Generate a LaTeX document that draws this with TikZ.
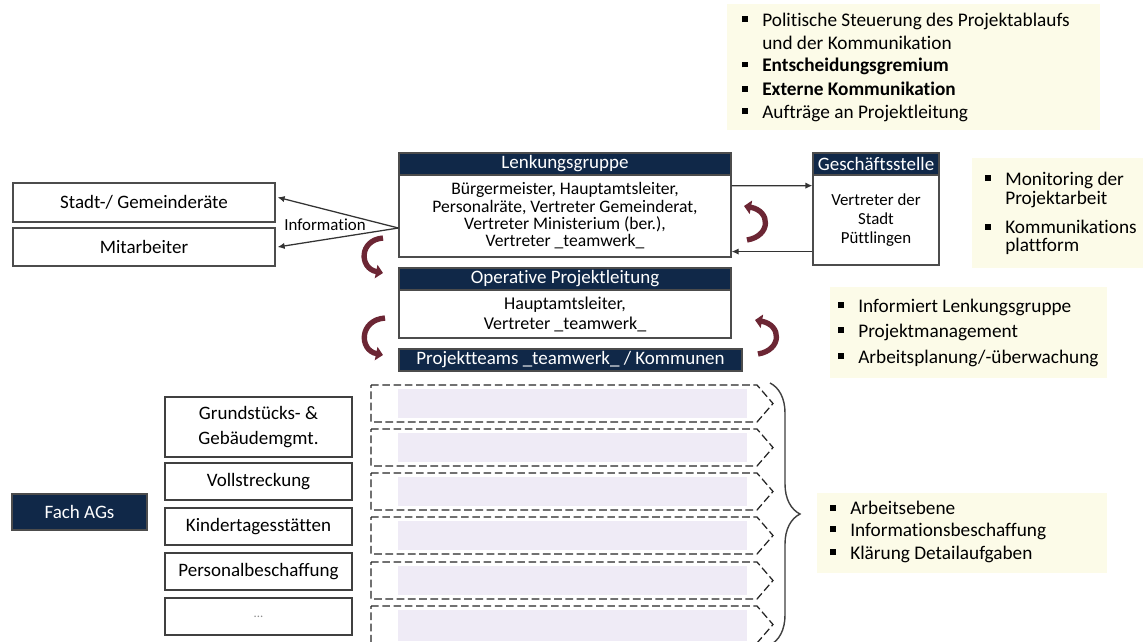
\documentclass[tikz,border=0pt]{standalone}
\usepackage{fontspec}
\setmainfont{Carlito}[Ligatures=NoCommon]
\usetikzlibrary{arrows.meta,decorations.pathreplacing}

\definecolor{navy}{RGB}{16,40,72}
\definecolor{wine}{RGB}{108,38,52}
\definecolor{note}{RGB}{252,251,232}
\definecolor{lav}{RGB}{239,235,246}

\newcommand{\blt}{\makebox[0.5cm][l]{\rule[0.2em]{0.3em}{0.3em}}}

\begin{document}
\begin{tikzpicture}[x=0.025cm, y=-0.025cm,
    box/.style={draw=black!70, line width=0.8pt, fill=white, inner sep=0pt, align=center, font=\fontsize{12.5}{12.3}\selectfont},
    head/.style={draw=black!70, line width=0.8pt, fill=navy, text=white, inner sep=0pt, font=\fontsize{13.5}{14}\selectfont},
    ag/.style={draw=black!75, line width=1pt, fill=white, inner sep=0pt, minimum width=4.675cm, align=center, font=\fontsize{13.5}{17.5}\selectfont},
    listline/.style={anchor=west, inner sep=0pt, font=\fontsize{13.7}{14}\selectfont},
    info/.style={draw=black!80, line width=0.9pt, -{Latex[length=5pt,width=4.5pt]}},
    curl/.style={draw=wine, line width=3.8pt, -{Triangle[width=9.5pt,length=5pt]}},
    agbar/.style={draw=black!85, line width=0.9pt, dash pattern=on 5.5pt off 2.5pt},
    curly/.style={decorate, decoration={brace, amplitude=0.75cm}, draw=black!75, line width=1pt},
    ]
      \path[use as bounding box, fill=white] (0,0) rectangle (1143,641);

      \fill[note] (727,4) rectangle (1100,130);
      \fill[note] (972,158) rectangle (1143,268);
      \fill[note] (830,287) rectangle (1107,378);
      \fill[note] (817,493) rectangle (1107,573);

      \node[listline] (pol1) at (742,21) {\blt Politische Steuerung des Projektablaufs};
      \node[listline] (pol2) at (762,43) {und der Kommunikation};
      \node[listline] (pol3) at (742,66) {\blt\textbf{Entscheidungsgremium}};
      \node[listline] (pol4) at (742,89) {\blt\textbf{Externe Kommunikation}};
      \node[listline] (pol5) at (742,113) {\blt Aufträge an Projektleitung};

      \node[listline] (mon1) at (985,180) {\blt Monitoring der};
      \node[listline] (mon2) at (1005,199) {Projektarbeit};
      \node[listline] (mon3) at (985,227) {\blt Kommunikations};
      \node[listline] (mon4) at (1005,246) {plattform};

      \node[listline] (opl1) at (838,307) {\blt Informiert Lenkungsgruppe};
      \node[listline] (opl2) at (838,332) {\blt Projektmanagement};
      \node[listline] (opl3) at (838,358) {\blt Arbeitsplanung/-überwachung};

      \node[listline] (arb1) at (830,508) {\blt Arbeitsebene};
      \node[listline] (arb2) at (830,531) {\blt Informationsbeschaffung};
      \node[listline] (arb3) at (830,554) {\blt Klärung Detailaufgaben};

      \node[box, minimum width=8.3cm, minimum height=2.05cm] (lg) at (565,216) {Bürgermeister, Hauptamtsleiter,\\Personalräte, Vertreter Gemeinderat,\\Vertreter Ministerium (ber.),\\Vertreter \_teamwerk\_};
      \node[head, minimum width=8.3cm, minimum height=0.55cm] (lghead) at (565,164) {Lenkungsgruppe};

      \node[box, minimum width=8.3cm, minimum height=1.2cm, font=\fontsize{12.8}{14.2}\selectfont] (op) at (565,314) {Hauptamtsleiter,\\Vertreter \_teamwerk\_};
      \node[head, minimum width=8.3cm, minimum height=0.55cm] (ophead) at (565,279) {Operative Projektleitung};

      \node[head, minimum width=8.575cm, minimum height=0.55cm] (teams) at (570.5,360) {Projektteams \_teamwerk\_ / Kommunen};

      \node[box, minimum width=3.15cm, minimum height=2.25cm, font=\fontsize{12}{13.5}\selectfont] (gs) at (876,220) {Vertreter der\\Stadt\\Püttlingen};
      \node[head, minimum width=3.15cm, minimum height=0.55cm] (gshead) at (876,164) {Geschäftsstelle};

      \node[box, minimum width=6.55cm, minimum height=0.975cm, font=\fontsize{13.5}{14}\selectfont] (rat) at (144,202.5) {Stadt-/ Gemeinderäte};
      \node[box, minimum width=6.55cm, minimum height=0.95cm, font=\fontsize{13.5}{14}\selectfont] (mit) at (144,247) {Mitarbeiter};

      \coordinate (src) at ([yshift=-0.3cm]lg.west);
      \draw[info] (src) -- ([xshift=0.05cm,yshift=0.13cm]rat.east);
      \draw[info] (src) -- ([xshift=0.05cm]mit.east);
      \node[font=\fontsize{12}{12}\selectfont, inner sep=0pt] (infolbl) at (325,225) {Information};

      \draw[info] ([yshift=-0.28cm]lg.north east) -- ([yshift=-0.28cm]gs.north west);
      \coordinate (back) at ([yshift=0.35cm]gs.south west);
      \draw[info] (back) -- (back -| lg.east);

      \node[head, minimum width=3.375cm, minimum height=0.9cm] (fach) at (79.5,512) {Fach AGs};

      \node[ag, minimum height=1.5cm] (grund) at (258.5,427) {Grundstücks- \&\\Gebäudemgmt.};
      \node[ag, minimum height=0.925cm] (voll) at (258.5,481.5) {Vollstreckung};
      \node[ag, minimum height=0.925cm] (kita) at (258.5,526.5) {Kindertagesstätten};
      \node[ag, minimum height=0.925cm] (pers) at (258.5,571.5) {Personalbeschaffung};
      \node[ag, minimum height=0.925cm] (more) at (258.5,616.5) {\fontsize{9}{9}\selectfont\color{black!45}...};

      \fill[lav] (398,389) rectangle (747,418);
      \fill[lav] (398,433) rectangle (747,462);
      \fill[lav] (398,477) rectangle (747,506);
      \fill[lav] (398,521) rectangle (747,550);
      \fill[lav] (398,566) rectangle (747,595);
      \fill[lav] (398,610) rectangle (747,641);

      \draw[agbar] (371,385) -- (757,385) -- (773,403.5) -- (757,422) -- (371,422) -- cycle;
      \draw[agbar] (371,429) -- (757,429) -- (773,447.5) -- (757,466) -- (371,466) -- cycle;
      \draw[agbar] (371,473) -- (757,473) -- (773,491.5) -- (757,510) -- (371,510) -- cycle;
      \draw[agbar] (371,517) -- (757,517) -- (773,535.5) -- (757,554) -- (371,554) -- cycle;
      \draw[agbar] (371,562) -- (757,562) -- (773,580.5) -- (757,599) -- (371,599) -- cycle;
      \draw[agbar] (371,606) -- (757,606) -- (773,624.5) -- (757,643) -- (371,643) -- cycle;

      \draw[curly] (770,383) -- (770,645);

      \draw[curl] (383,238) .. controls (359,240) and (359,268) .. (383,273);
      \draw[curl] (385,318) .. controls (359,320) and (359,350) .. (383,355);
      \draw[curl] (747,240) .. controls (771,236) and (771,211) .. (744,206);
      \draw[curl] (758,354) .. controls (782,350) and (782,325) .. (755,320);
    \end{tikzpicture}
\end{document}
